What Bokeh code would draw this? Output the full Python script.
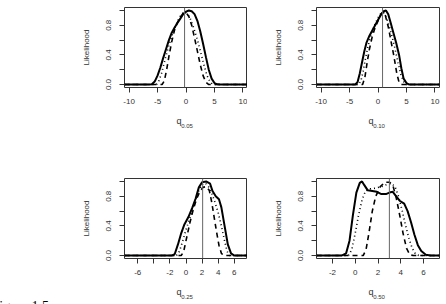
from bokeh.plotting import figure
from bokeh.layouts import column, row
from bokeh.models import (FixedTicker, Span, Title, LinearAxis, PrintfTickFormatter,
                          CustomJSTickFormatter)
from bokeh.embed import file_html
from bokeh.resources import INLINE

# ---------------- data ----------------
# panel 1: q_0.05
p1_solid_x = [-10.8, -6.5, -6.0, -5.5, -5.0, -4.5, -4.0, -3.5, -3.0, -2.5, -2.0, -1.5, -1.0, -0.5, 0.0, 0.5, 1.0, 1.5, 2.0, 2.5, 3.0, 3.5, 4.0, 4.5, 5.0, 5.5, 6.0, 10.8]
p1_solid_y = [0, 0, 0.005, 0.04, 0.12, 0.23, 0.36, 0.48, 0.60, 0.70, 0.77, 0.83, 0.89, 0.95, 0.985, 1.0, 0.99, 0.95, 0.86, 0.72, 0.55, 0.37, 0.20, 0.08, 0.02, 0.003, 0, 0]
p1_dash_x = [-10.8, -4.2, -3.8, -3.4, -3.0, -2.5, -2.0, -1.5, -1.0, -0.5, 0.0, 0.5, 1.0, 1.5, 2.0, 2.5, 3.0, 3.5, 4.0, 10.8]
p1_dash_y = [0, 0, 0.05, 0.20, 0.38, 0.58, 0.74, 0.84, 0.91, 0.96, 0.97, 0.92, 0.80, 0.63, 0.45, 0.27, 0.12, 0.03, 0, 0]
p1_dot_x = [-10.8, -5.2, -4.8, -4.3, -3.8, -3.3, -2.8, -2.3, -1.8, -1.3, -0.8, -0.3, 0.2, 0.7, 1.2, 1.7, 2.2, 2.7, 3.2, 3.7, 4.2, 4.7, 10.8]
p1_dot_y = [0, 0, 0.04, 0.15, 0.30, 0.45, 0.58, 0.70, 0.80, 0.88, 0.95, 0.98, 0.96, 0.90, 0.80, 0.68, 0.55, 0.40, 0.25, 0.12, 0.04, 0, 0]

# panel 2: q_0.10
p2_solid_x = [-10.8, -4.0, -3.6, -3.2, -2.8, -2.4, -2.0, -1.5, -1.0, -0.5, 0.0, 0.5, 1.0, 1.4, 1.8, 2.2, 2.7, 3.2, 3.7, 4.1, 4.5, 5.0, 5.5, 10.8]
p2_solid_y = [0, 0, 0.03, 0.15, 0.30, 0.45, 0.57, 0.66, 0.73, 0.80, 0.87, 0.94, 0.99, 1.0, 0.95, 0.84, 0.70, 0.56, 0.40, 0.22, 0.08, 0.02, 0, 0]
p2_dash_x = [-10.8, -2.7, -2.3, -1.9, -1.5, -1.0, -0.5, 0.0, 0.5, 0.9, 1.3, 1.8, 2.3, 2.8, 3.3, 3.7, 4.1, 10.8]
p2_dash_y = [0, 0, 0.10, 0.30, 0.48, 0.65, 0.77, 0.86, 0.95, 0.98, 0.93, 0.78, 0.58, 0.38, 0.15, 0.03, 0, 0]
p2_dot_x = [-10.8, -3.4, -3.0, -2.6, -2.2, -1.8, -1.4, -1.0, -0.5, 0.0, 0.5, 1.0, 1.5, 2.0, 2.5, 3.0, 3.5, 4.0, 4.5, 5.0, 10.8]
p2_dot_y = [0, 0, 0.05, 0.18, 0.35, 0.50, 0.62, 0.72, 0.82, 0.90, 0.96, 0.97, 0.90, 0.78, 0.64, 0.48, 0.30, 0.14, 0.04, 0, 0]

# panel 3: q_0.25
p3_solid_x = [-7.65, -1.8, -1.4, -1.0, -0.6, -0.2, 0.3, 0.8, 1.2, 1.6, 2.0, 2.5, 3.0, 3.3, 3.7, 4.1, 4.4, 4.8, 5.2, 5.6, 6.0, 7.65]
p3_solid_y = [0, 0, 0.02, 0.15, 0.30, 0.42, 0.52, 0.65, 0.77, 0.92, 0.99, 1.0, 0.97, 0.87, 0.80, 0.76, 0.65, 0.40, 0.15, 0.03, 0, 0]
p3_dash_x = [-7.65, -0.6, -0.3, 0.1, 0.5, 0.9, 1.3, 1.7, 2.1, 2.5, 2.9, 3.2, 3.5, 3.8, 4.1, 4.4, 4.7, 7.65]
p3_dash_y = [0, 0, 0.05, 0.25, 0.45, 0.62, 0.76, 0.86, 0.92, 0.93, 0.88, 0.72, 0.52, 0.32, 0.14, 0.03, 0, 0]
p3_dot_x = [-7.65, -1.2, -0.8, -0.4, 0.0, 0.4, 0.8, 1.2, 1.6, 2.0, 2.4, 2.8, 3.2, 3.6, 4.0, 4.4, 4.8, 5.1, 5.4, 7.65]
p3_dot_y = [0, 0, 0.06, 0.20, 0.35, 0.48, 0.62, 0.76, 0.88, 0.96, 0.98, 0.93, 0.84, 0.72, 0.58, 0.40, 0.20, 0.06, 0, 0]

# panel 4: q_0.50
p4_solid_x = [-3.4, -1.2, -0.8, -0.5, -0.2, 0.1, 0.4, 0.6, 0.8, 1.1, 1.5, 1.9, 2.3, 2.7, 3.0, 3.3, 3.6, 3.9, 4.3, 4.6, 4.9, 5.2, 5.5, 5.8, 6.2, 6.6, 7.4]
p4_solid_y = [0, 0, 0.03, 0.20, 0.55, 0.85, 0.98, 1.0, 0.95, 0.88, 0.87, 0.86, 0.83, 0.83, 0.85, 0.86, 0.80, 0.74, 0.70, 0.60, 0.45, 0.28, 0.14, 0.06, 0.01, 0, 0]
p4_dash_x = [-3.4, 0.7, 0.95, 1.2, 1.5, 1.8, 2.2, 2.6, 3.0, 3.3, 3.6, 3.9, 4.2, 4.5, 4.8, 5.1, 7.4]
p4_dash_y = [0, 0, 0.08, 0.30, 0.60, 0.80, 0.93, 0.99, 0.99, 0.95, 0.78, 0.55, 0.30, 0.10, 0.01, 0, 0]
p4_dot_x = [-3.4, -0.6, -0.3, 0.0, 0.3, 0.6, 0.9, 1.3, 1.8, 2.3, 2.8, 3.2, 3.5, 3.8, 4.1, 4.4, 4.7, 5.0, 5.3, 5.6, 7.4]
p4_dot_y = [0, 0, 0.08, 0.30, 0.55, 0.75, 0.87, 0.90, 0.91, 0.93, 0.96, 0.97, 0.93, 0.80, 0.62, 0.42, 0.24, 0.10, 0.02, 0, 0]

x_ranges = [(-10.8, 10.8), (-10.8, 10.8), (-7.65, 7.65), (-3.4, 7.4)]
x_major_ticks = [[-10, -5, 0, 5, 10], [-10, -5, 0, 5, 10], [-6, -2, 0, 2, 4, 6], [-2, 0, 2, 4, 6]]
x_minor_ticks = [[], [], [-4], []]
y_major_ticks = [0, 0.4, 0.8]
y_minor_ticks = [0.2, 0.6, 1.0]
true_q = [-0.25, 0.8, 2.07, 3.0]
q_letter = "q"
q_subscripts = ["0.05", "0.10", "0.25", "0.50"]
y_label = "Likelihood"
caption = "Figure 1.5:"

curves = [
    (p1_solid_x, p1_solid_y, p1_dash_x, p1_dash_y, p1_dot_x, p1_dot_y),
    (p2_solid_x, p2_solid_y, p2_dash_x, p2_dash_y, p2_dot_x, p2_dot_y),
    (p3_solid_x, p3_solid_y, p3_dash_x, p3_dash_y, p3_dot_x, p3_dot_y),
    (p4_solid_x, p4_solid_y, p4_dash_x, p4_dash_y, p4_dot_x, p4_dot_y),
]

# borders (left, right, top, bottom)
borders = [(124, 0, 7, 60), (69, 7, 7, 60), (124, 0, 31, 46), (69, 7, 31, 46)]

AX = "#333333"
FONT = "Liberation Sans"
FW, FH = 123, 80


def text_axis(tick, text, size, standoff):
    ax = LinearAxis(ticker=FixedTicker(ticks=[tick]),
                    formatter=CustomJSTickFormatter(code="return %r" % text))
    ax.axis_line_color = None
    ax.major_tick_line_color = None
    ax.minor_tick_line_color = None
    ax.major_tick_out = 0
    ax.major_tick_in = 0
    ax.minor_tick_out = 0
    ax.minor_tick_in = 0
    ax.major_label_standoff = standoff
    ax.major_label_text_font = FONT
    ax.major_label_text_font_size = size
    ax.major_label_text_color = AX
    return ax


def make_panel(i):
    x0, x1 = x_ranges[i]
    left, right, top, bottom = borders[i]
    p = figure(frame_width=FW, frame_height=FH, x_range=(x0, x1), y_range=(-0.04, 1.04),
               output_backend="svg", toolbar_location=None,
               min_border_left=left, min_border_right=right,
               min_border_top=top, min_border_bottom=bottom)
    p.grid.visible = False
    p.outline_line_color = AX
    p.outline_line_width = 1
    p.background_fill_color = "white"
    p.border_fill_color = "white"

    p.xaxis.ticker = FixedTicker(ticks=x_major_ticks[i], minor_ticks=x_minor_ticks[i])
    p.yaxis.ticker = FixedTicker(ticks=y_major_ticks, minor_ticks=y_minor_ticks)
    p.xaxis.formatter = PrintfTickFormatter(format="%d")
    p.yaxis.formatter = PrintfTickFormatter(format="%.1f")
    for ax in (p.xaxis[0], p.yaxis[0]):
        ax.axis_line_color = None
        ax.major_tick_out = 5
        ax.major_tick_in = 0
        ax.minor_tick_out = 5
        ax.minor_tick_in = 0
        ax.major_tick_line_color = AX
        ax.minor_tick_line_color = AX
        ax.major_label_text_font = FONT
        ax.major_label_text_font_size = "8px"
        ax.major_label_text_color = AX
    p.xaxis.major_label_standoff = 6
    p.yaxis.major_label_standoff = 8
    p.yaxis.major_label_orientation = "vertical"
    p.yaxis.axis_label = y_label
    p.yaxis.axis_label_text_font = FONT
    p.yaxis.axis_label_text_font_size = "8px"
    p.yaxis.axis_label_text_font_style = "normal"
    p.yaxis.axis_label_text_color = AX
    p.yaxis.axis_label_standoff = 13

    sx, sy, dx, dy, ox, oy = curves[i]
    p.line(sx, sy, line_color="black", line_width=2)
    p.line(dx, dy, line_color="black", line_width=1.6, line_dash="5 4")
    p.line(ox, oy, line_color="black", line_width=1.6, line_dash="1 3")
    p.add_layout(Span(location=true_q[i], dimension="height", line_color="#666666", line_width=1))

    # x-axis title "q" with subscript, as two extra label-only axes
    ppu = FW / (x1 - x0)
    xc = (x0 + x1) / 2
    p.add_layout(text_axis(xc - 7 / ppu, q_letter, "9px", 9), "below")
    p.add_layout(text_axis(xc + 1 / ppu, q_subscripts[i], "6px", -5), "below")

    if i == 2:
        t = Title(text=caption, align="left", offset=-133, standoff=-25,
                  text_font="Liberation Serif", text_font_size="14px",
                  text_font_style="normal", text_color="black")
        p.add_layout(t, "below")
    return p


panels = [make_panel(i) for i in range(4)]
layout = column(row(panels[0], panels[1], spacing=0), row(panels[2], panels[3], spacing=0), spacing=0)

open("out.html", "w").write(file_html(layout, INLINE))
